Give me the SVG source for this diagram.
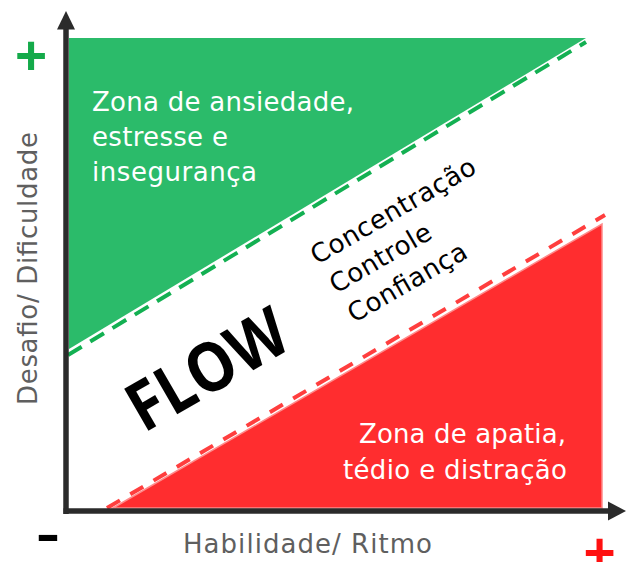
<svg xmlns="http://www.w3.org/2000/svg" width="636" height="562" viewBox="0 0 636 562">
<style>
  .zone-text { font-family: "DejaVu Sans", "Noto Sans", sans-serif; fill: #ffffff; font-size: 26px; }
  .flow-word { font-family: "DejaVu Sans", "Noto Sans", sans-serif; fill: #000000; font-size: 26px; }
  .axis-label { font-family: "DejaVu Sans", "Noto Sans", sans-serif; fill: #5f5f5f; font-size: 26px; }
  .axis { stroke: #2b2b2b; stroke-width: 5.5; fill: none; }
  .arrow { fill: #2b2b2b; }
</style>
<rect width="636" height="562" fill="#ffffff"/>

<g id="zone-anxiety">
  <polygon points="69,38 586,38 69,349" fill="#2bbb6a"/>
  <text class="zone-text" x="92" y="111" textLength="262">Zona de ansiedade,</text>
  <text class="zone-text" x="92" y="146" textLength="136">estresse e</text>
  <text class="zone-text" x="92" y="181" textLength="165">insegurança</text>
</g>

<g id="zone-apathy">
  <polygon points="113,508 602,224 602,508" fill="#ff2d2f" stroke="#ff8a8a" stroke-width="1.5"/>
  <text class="zone-text" x="566" y="443" font-size="25" text-anchor="end" textLength="207">Zona de apatia,</text>
  <text class="zone-text" x="567" y="479" font-size="25" text-anchor="end" textLength="224">tédio e distração</text>
</g>

<g id="connectors">
  <line x1="68" y1="355" x2="586" y2="42" stroke="#13b052" stroke-width="4" stroke-dasharray="16,10"/>
  <line x1="107" y1="508" x2="605" y2="215" stroke="#ff3e3e" stroke-width="4" stroke-dasharray="15,12"/>
</g>

<g id="flow">
  <text transform="translate(219,390) rotate(-30)" x="0" y="0" text-anchor="middle" textLength="174" lengthAdjust="spacingAndGlyphs" font-family="'Open Sans', 'DejaVu Sans', sans-serif" font-weight="700" font-size="68" fill="#000000">FLOW</text>
  <g transform="translate(317,265) rotate(-30)">
    <text class="flow-word" x="0" y="0" textLength="186">Concentração</text>
    <text class="flow-word" x="2" y="34.5" textLength="113">Controle</text>
    <text class="flow-word" x="3" y="69" textLength="133">Confiança</text>
  </g>
</g>

<g id="axes">
  <line class="axis" x1="66" y1="28" x2="66" y2="514"/>
  <polygon class="arrow" points="66,11 75,29.5 57,29.5"/>
  <line class="axis" x1="63.5" y1="511" x2="609" y2="511"/>
  <polygon class="arrow" points="626,511 608,501.5 608,520.5"/>
</g>

<g id="labels">
  <text class="axis-label" x="307.5" y="553" text-anchor="middle" textLength="249">Habilidade/ Ritmo</text>
  <text class="axis-label" transform="translate(37,268.5) rotate(-90)" x="0" y="0" text-anchor="middle" textLength="273">Desafio/ Dificuldade</text>
  <text x="31" y="74" text-anchor="middle" font-family="'Liberation Sans', Arial, sans-serif" font-weight="700" font-size="55" fill="#14aa4a">+</text>
  <text transform="translate(35.5,550) scale(1.43,1)" x="0" y="0" font-family="'DejaVu Sans', sans-serif" font-weight="700" font-size="42" fill="#000000">-</text>
  <text x="599.5" y="571" text-anchor="middle" font-family="'Liberation Sans', Arial, sans-serif" font-weight="700" font-size="55" fill="#ff1010">+</text>
</g>
</svg>
